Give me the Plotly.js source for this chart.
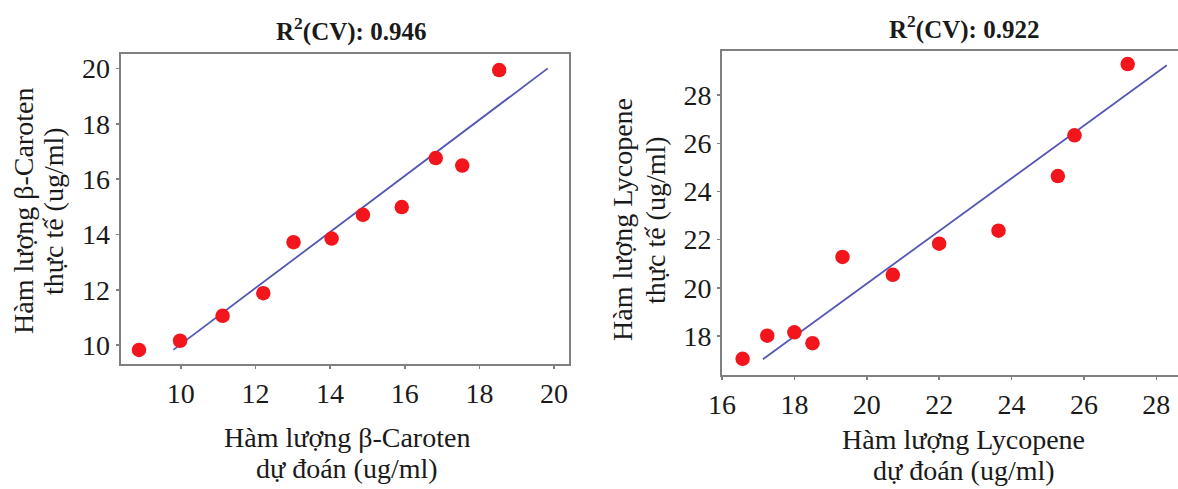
<!DOCTYPE html>
<html>
<head>
<meta charset="utf-8">
<script src="https://cdn.plot.ly/plotly-3.0.1.min.js"></script>
<style>html,body{margin:0;padding:0;background:#fff;}#chart{width:1178px;height:489px;}</style>
</head>
<body>
<div id="chart"></div>
<script>
// ---- data ----
const betaPredicted = [8.88, 9.98, 11.12, 12.21, 13.02, 14.04, 14.88, 15.92, 16.83, 17.54, 18.53];
const betaActual    = [9.83, 10.16, 11.06, 11.88, 13.72, 13.85, 14.71, 14.99, 16.76, 16.49, 19.94];
const betaFitX = [9.80, 19.83];
const betaFitY = [9.83, 20.00];
const betaR2 = "0.946";

const lycPredicted = [16.57, 17.25, 18.00, 18.50, 19.33, 20.72, 22.00, 23.64, 25.28, 25.74, 27.21];
const lycActual    = [17.05, 18.01, 18.15, 17.70, 21.28, 20.54, 21.83, 22.37, 24.64, 26.33, 29.29];
const lycFitX = [17.13, 28.29];
const lycFitY = [17.03, 29.24];
const lycR2 = "0.922";

const betaXTicks = [10, 12, 14, 16, 18, 20];
const betaYTicks = [10, 12, 14, 16, 18, 20];
const lycXTicks = [16, 18, 20, 22, 24, 26, 28];
const lycYTicks = [18, 20, 22, 24, 26, 28];

// ---- styling ----
const W = 1178, H = 489;
const serif = "Liberation Serif, Times New Roman, serif";
const red = "#f2161c";
const blue = "#5656b6";
const frame = "#808080";
const px = v => v / W;
const py = v => 1 - v / H;

function axis(domain, range, ticks, anchor) {
  return {
    domain: domain, range: range, anchor: anchor,
    tickmode: "array", tickvals: ticks, ticktext: ticks.map(String),
    ticks: "outside", ticklen: 3, tickwidth: 1.5, tickcolor: frame,
    showline: true, linecolor: frame, linewidth: 2, mirror: true,
    showgrid: false, zeroline: false,
    tickfont: {family: serif, size: 28, color: "#1a1a1a"}
  };
}

const traces = [
  {x: betaFitX, y: betaFitY, mode: "lines", line: {color: blue, width: 1.8}, xaxis: "x", yaxis: "y", hoverinfo: "skip"},
  {x: betaPredicted, y: betaActual, mode: "markers", marker: {color: red, size: 14.5}, xaxis: "x", yaxis: "y"},
  {x: lycFitX, y: lycFitY, mode: "lines", line: {color: blue, width: 1.8}, xaxis: "x2", yaxis: "y2", hoverinfo: "skip"},
  {x: lycPredicted, y: lycActual, mode: "markers", marker: {color: red, size: 14.5}, xaxis: "x2", yaxis: "y2"}
];

const txt = (text, x, y, opts) => Object.assign({
  text: text, xref: "paper", yref: "paper", x: px(x), y: py(y),
  xanchor: "center", yanchor: "middle", showarrow: false,
  font: {family: serif, size: 28, color: "#1a1a1a"}
}, opts || {});

const titleFont = {family: serif, size: 25, color: "#1a1a1a", weight: "bold"};

const layout = {
  width: W, height: H,
  margin: {l: 0, r: 0, t: 0, b: 0},
  paper_bgcolor: "#fff", plot_bgcolor: "#fff",
  showlegend: false,
  xaxis: axis([px(120.7), px(569)], [8.39, 20.40], betaXTicks, "y"),
  yaxis: axis([py(364), py(54)], [9.32, 20.52], betaYTicks, "x"),
  xaxis2: axis([px(722), 1], [16.0, 28.6], lycXTicks, "y2"),
  yaxis2: axis([py(375), py(51)], [16.38, 29.83], lycYTicks, "x2"),
  annotations: [
    txt("<b>R<sup>2</sup>(CV): " + betaR2 + "</b>", 351, 29, {font: titleFont}),
    txt("<b>R<sup>2</sup>(CV): " + lycR2 + "</b>", 964, 28, {font: titleFont}),
    txt("Hàm lượng β-Caroten", 347, 437),
    txt("dự đoán (ug/ml)", 347, 468),
    txt("Hàm lượng Lycopene", 964, 439),
    txt("dự đoán (ug/ml)", 964, 470),
    txt("Hàm lượng β-Caroten", 23, 211, {textangle: -90}),
    txt("thực tế (ug/ml)", 53, 211, {textangle: -90}),
    txt("Hàm lượng Lycopene", 623, 220, {textangle: -90}),
    txt("thực tế (ug/ml)", 656, 220, {textangle: -90})
  ]
};

Plotly.newPlot("chart", traces, layout, {displayModeBar: false, staticPlot: true});
</script>
</body>
</html>
